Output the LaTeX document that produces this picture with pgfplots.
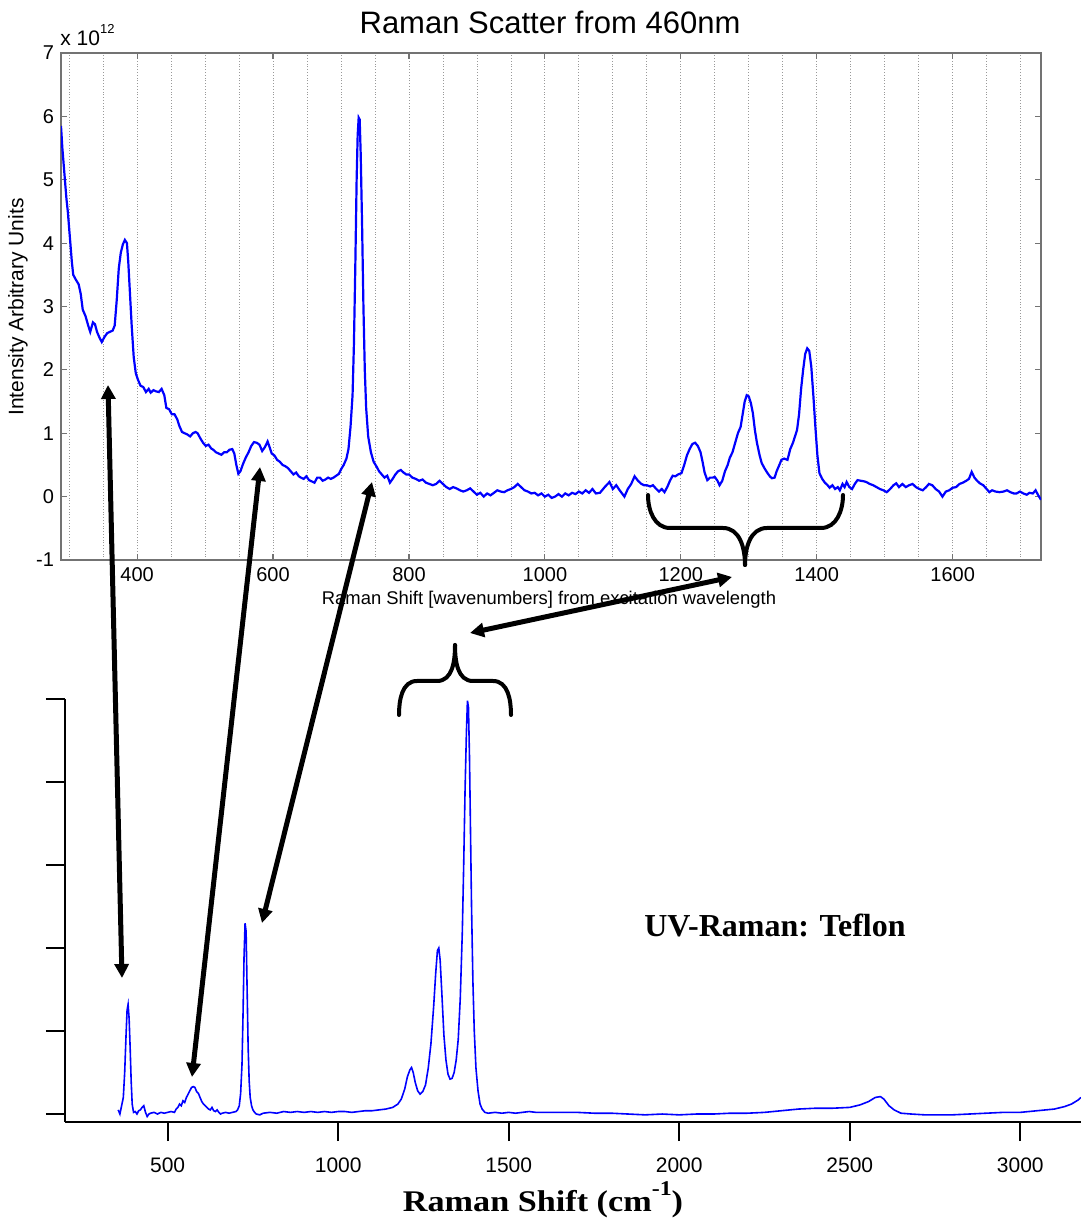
\documentclass[border=0pt]{standalone}
\usepackage{fontspec}
\setmainfont{Liberation Serif}
\newfontfamily\arial{Liberation Sans}
\newfontfamily\wideserif[FakeStretch=1.14]{Liberation Serif}
\usepackage{pgfplots}
\pgfplotsset{compat=1.18}
\usetikzlibrary{arrows.meta}

% 460 nm spectrum, intensity in units of 1e12
\pgfplotstableread{
x y
288 5.85
290 5.5
293 5.1
296 4.7
298 4.5
301 4.1
304 3.7
306 3.5
310 3.42
314 3.35
317 3.2
320 2.95
324 2.85
328 2.7
331 2.6
335 2.75
338 2.72
341 2.6
345 2.5
348 2.44
352 2.52
356 2.58
360 2.6
364 2.62
367 2.7
370 3.1
373 3.6
376 3.85
379 3.98
382 4.05
385 4.0
387 3.7
389 3.3
392 2.7
395 2.2
398 1.95
401 1.85
405 1.75
409 1.73
413 1.65
417 1.7
420 1.64
424 1.68
428 1.66
432 1.65
436 1.7
440 1.6
443 1.4
447 1.38
451 1.3
455 1.3
459 1.22
462 1.12
466 1.02
470 1.0
474 0.98
478 0.95
482 1.0
486 1.02
489 1.0
493 0.92
497 0.85
501 0.8
505 0.82
509 0.76
512 0.74
516 0.7
520 0.68
524 0.66
528 0.7
532 0.7
536 0.74
540 0.75
543 0.68
546 0.5
549 0.36
552 0.4
556 0.52
560 0.62
564 0.7
568 0.8
572 0.86
576 0.85
580 0.82
584 0.72
588 0.78
592 0.87
595 0.78
598 0.68
602 0.65
606 0.58
610 0.55
614 0.5
618 0.48
622 0.45
626 0.4
630 0.35
634 0.38
638 0.32
641 0.3
645 0.28
649 0.32
653 0.26
657 0.24
661 0.22
665 0.3
669 0.3
673 0.25
677 0.27
681 0.3
685 0.28
689 0.3
693 0.33
697 0.36
700 0.43
704 0.5
708 0.6
711 0.75
714 1.1
717 1.6
719 2.4
721 3.6
723 5.0
724.5 5.7
726 5.98
727.5 5.95
729 5.4
731 4.3
733 3.0
735 2.0
737 1.4
740 0.95
744 0.7
748 0.55
752 0.48
756 0.4
760 0.35
764 0.3
768 0.33
772 0.22
776 0.28
780 0.35
784 0.4
788 0.42
792 0.38
796 0.35
800 0.35
805 0.3
810 0.28
815 0.25
820 0.27
825 0.22
830 0.2
835 0.18
840 0.2
845 0.25
850 0.2
855 0.15
860 0.12
865 0.15
870 0.13
875 0.1
880 0.08
885 0.1
890 0.13
895 0.08
900 0.03
905 0.06
910 0.0
915 0.05
920 0.02
925 0.06
930 0.1
935 0.08
940 0.07
945 0.1
950 0.12
955 0.15
960 0.2
965 0.15
970 0.1
975 0.08
980 0.05
985 0.06
990 0.02
995 0.05
1000 0.0
1005 0.03
1010 -0.02
1015 0.0
1020 0.04
1025 0.0
1030 0.05
1035 0.02
1040 0.06
1045 0.04
1050 0.08
1055 0.05
1060 0.1
1065 0.06
1070 0.12
1075 0.05
1081 0.06
1088 0.15
1095 0.23
1100 0.12
1105 0.18
1110 0.1
1117 0.0
1122 0.12
1127 0.2
1132 0.32
1137 0.25
1142 0.2
1146 0.18
1150 0.18
1155 0.16
1159 0.18
1164 0.12
1168 0.08
1172 0.12
1176 0.07
1180 0.15
1184 0.25
1188 0.33
1192 0.32
1196 0.35
1201 0.37
1205 0.5
1209 0.65
1213 0.75
1217 0.83
1221 0.85
1225 0.8
1229 0.7
1232 0.55
1235 0.38
1239 0.26
1243 0.3
1247 0.3
1250 0.31
1254 0.25
1257 0.18
1261 0.25
1265 0.4
1269 0.5
1272 0.61
1276 0.7
1280 0.85
1284 1.0
1288 1.1
1291 1.3
1294 1.5
1297 1.6
1300 1.58
1303 1.48
1306 1.32
1309 1.05
1312 0.85
1316 0.65
1319 0.53
1323 0.45
1327 0.38
1331 0.32
1334 0.29
1338 0.3
1341 0.4
1345 0.5
1348 0.58
1352 0.6
1357 0.58
1361 0.75
1365 0.85
1368 0.95
1371 1.05
1374 1.3
1377 1.7
1380 2.0
1383 2.25
1386 2.34
1389 2.3
1392 2.05
1395 1.6
1398 1.1
1401 0.65
1404 0.37
1408 0.28
1412 0.22
1416 0.18
1419 0.14
1423 0.18
1427 0.12
1431 0.15
1434 0.1
1438 0.2
1441 0.15
1444 0.23
1448 0.15
1452 0.12
1456 0.2
1460 0.26
1465 0.25
1470 0.24
1473 0.23
1478 0.2
1483 0.18
1488 0.15
1493 0.12
1498 0.1
1503 0.07
1508 0.12
1513 0.18
1517 0.21
1521 0.15
1526 0.2
1531 0.15
1536 0.18
1541 0.2
1546 0.15
1551 0.12
1556 0.1
1561 0.15
1565 0.2
1570 0.18
1575 0.12
1580 0.08
1585 0.0
1590 0.08
1595 0.1
1600 0.14
1605 0.15
1610 0.2
1615 0.22
1620 0.25
1624 0.28
1628 0.39
1632 0.3
1636 0.25
1640 0.21
1645 0.18
1650 0.12
1654 0.07
1658 0.1
1663 0.08
1669 0.07
1675 0.08
1680 0.1
1685 0.07
1690 0.05
1694 0.05
1699 0.08
1704 0.05
1709 0.03
1713 0.06
1718 0.05
1722 0.1
1726 0.02
1730 -0.05
}\visdata

% UV spectrum, arbitrary units (axis top = 5)
\pgfplotstableread{
x y
355 0.05
360 0.0
365 0.1
370 0.2
374 0.5
378 0.95
381 1.25
384 1.32
387 1.15
390 0.8
393 0.4
396 0.12
400 0.02
405 0.03
410 0.0
415 0.04
420 0.05
425 0.08
430 0.1
435 0.02
440 -0.03
445 0.0
450 0.01
460 0.02
470 0.0
480 0.02
490 0.01
500 0.02
510 0.03
520 0.02
525 0.06
530 0.08
535 0.12
540 0.1
545 0.16
550 0.14
555 0.2
560 0.24
565 0.28
570 0.32
575 0.33
580 0.32
585 0.27
590 0.25
595 0.2
600 0.15
605 0.12
610 0.1
615 0.08
620 0.06
625 0.05
630 0.08
635 0.04
640 0.03
645 0.05
650 0.02
655 0.0
660 0.01
670 0.02
680 0.01
690 0.02
700 0.03
705 0.05
710 0.1
714 0.25
718 0.6
721 1.2
724 1.9
727 2.3
730 2.2
733 1.5
736 0.8
739 0.4
742 0.2
746 0.1
750 0.05
755 0.02
760 0.0
770 -0.01
780 0.01
800 0.02
820 0.01
840 0.03
860 0.02
880 0.03
900 0.02
920 0.03
940 0.02
960 0.03
980 0.02
1000 0.03
1020 0.03
1040 0.02
1060 0.03
1080 0.04
1100 0.04
1120 0.05
1140 0.06
1160 0.08
1175 0.12
1185 0.18
1195 0.3
1203 0.45
1210 0.53
1215 0.56
1220 0.5
1226 0.38
1233 0.28
1240 0.24
1248 0.27
1256 0.35
1264 0.55
1272 0.85
1280 1.3
1286 1.7
1291 1.97
1295 2.0
1299 1.85
1304 1.45
1310 0.95
1316 0.65
1322 0.48
1328 0.42
1334 0.43
1340 0.5
1346 0.65
1352 0.9
1358 1.4
1364 2.2
1368 3.0
1372 3.9
1376 4.6
1379 4.98
1382 4.9
1385 4.3
1388 3.4
1391 2.5
1395 1.6
1399 1.0
1404 0.55
1410 0.28
1416 0.12
1422 0.06
1430 0.02
1440 0.01
1460 0.02
1480 0.01
1500 0.02
1520 0.01
1540 0.02
1560 0.03
1580 0.02
1600 0.02
1650 0.02
1700 0.02
1750 0.01
1800 0.01
1850 0.0
1900 -0.01
1950 0.0
2000 -0.01
2050 0.0
2100 0.0
2150 0.01
2200 0.01
2250 0.02
2300 0.04
2350 0.06
2400 0.07
2450 0.07
2500 0.08
2530 0.11
2555 0.15
2575 0.2
2590 0.21
2600 0.18
2615 0.1
2630 0.05
2650 0.01
2680 0.0
2720 -0.01
2760 -0.01
2800 -0.01
2850 0.0
2900 0.01
2950 0.02
3000 0.02
3050 0.04
3100 0.06
3130 0.09
3150 0.12
3170 0.17
3178 0.2
}\uvdata

\begin{document}
\begin{tikzpicture}
\useasboundingbox (0,0) rectangle (540.5pt,613pt);

% top panel (matlab style)
\begin{axis}[
    at={(30.5pt,333pt)}, anchor=south west,
    scale only axis, width=490pt, height=253.5pt,
    xmin=288, xmax=1730, ymin=-1, ymax=7,
    xtick={400,600,...,1600},
    minor xtick={300,350,...,1700},
    ytick={-1,0,...,7},
    tick align=inside,
    major tick length=3pt, minor tick length=0pt,
    xmajorgrids, xminorgrids,
    major grid style={densely dotted, black!40, line width=0.4pt},
    minor grid style={densely dotted, black!40, line width=0.4pt},
    axis line style={black!55, line width=0.6pt},
    tick style={black!55, line width=0.6pt},
    ticklabel style={font=\arial\fontsize{10}{12}\selectfont},
    /pgf/number format/assume math mode=true,
    /pgf/number format/1000 sep={},
    scaled ticks=false,
]
\addplot[blue, line width=1.1pt] table {\visdata};
\end{axis}

% bottom panel (UV-Raman)
\begin{axis}[
    at={(32.5pt,52pt)}, anchor=south west,
    scale only axis, width=508pt, height=211.5pt,
    xmin=199, xmax=3178, ymin=-0.096, ymax=5,
    axis lines=left,
    axis line style={-, black, line width=0.9pt},
    xtick={500,1000,...,3000},
    ytick={0,1,...,5}, yticklabels={},
    tick align=outside, major tick length=9.5pt,
    tick style={black, line width=0.9pt},
    xticklabel style={font=\arial\fontsize{10.5}{12}\selectfont, yshift=-5pt},
    /pgf/number format/assume math mode=true,
    /pgf/number format/1000 sep={},
]
\addplot[blue, line width=0.8pt] table {\uvdata};
\end{axis}

% annotations, in pixel units of the 1081x1226 original
\begin{scope}[x=0.5pt, y=-0.5pt, shift={(0pt,613pt)}]
\node[font=\arial\fontsize{15.5}{18}\selectfont] at (550,22) {Raman Scatter from 460nm};
\node[anchor=base west, font=\arial\fontsize{10.5}{12}\selectfont, inner sep=0pt] at (60,46)
  {x 10\raisebox{6pt}{\fontsize{6.5}{7}\selectfont 12}};
\node[rotate=90, font=\arial\fontsize{10.5}{12}\selectfont] at (18,307) {Intensity Arbitrary Units};
\node[font=\arial\fontsize{9.2}{11}\selectfont] at (549,600) {Raman Shift [wavenumbers] from excitation wavelength};

\node[anchor=base, font=\wideserif\bfseries\fontsize{15}{17}\selectfont] at (543,1212)
  {Raman Shift (cm\raisebox{8pt}{\fontsize{10.5}{11}\selectfont -1})};
\node[anchor=base, font=\bfseries\fontsize{16}{18}\selectfont] at (775,937) {UV-Raman: Teflon};

\begin{scope}[line width=2.5pt, {Triangle[width=7pt,length=7pt]}-{Triangle[width=7pt,length=7pt]}]
\draw (108,385) -- (122,978);
\draw (260,467) -- (192,1077);
\draw (372,482) -- (262,923);
\draw (470,633) -- (732,577);
\end{scope}

\begin{scope}[line width=2pt, line cap=round]
\draw (648,495) to[out=-90,in=180] (670,528) -- (723,528) to[out=0,in=90] (745,565);
\draw (843,495) to[out=-90,in=0] (821,528) -- (767,528) to[out=180,in=90] (745,565);
\draw (399,715) to[out=90,in=180] (417,681) -- (437,681) to[out=0,in=-90] (455,645);
\draw (511,715) to[out=90,in=0] (493,681) -- (473,681) to[out=180,in=-90] (455,645);
\end{scope}
\end{scope}
\end{tikzpicture}
\end{document}
